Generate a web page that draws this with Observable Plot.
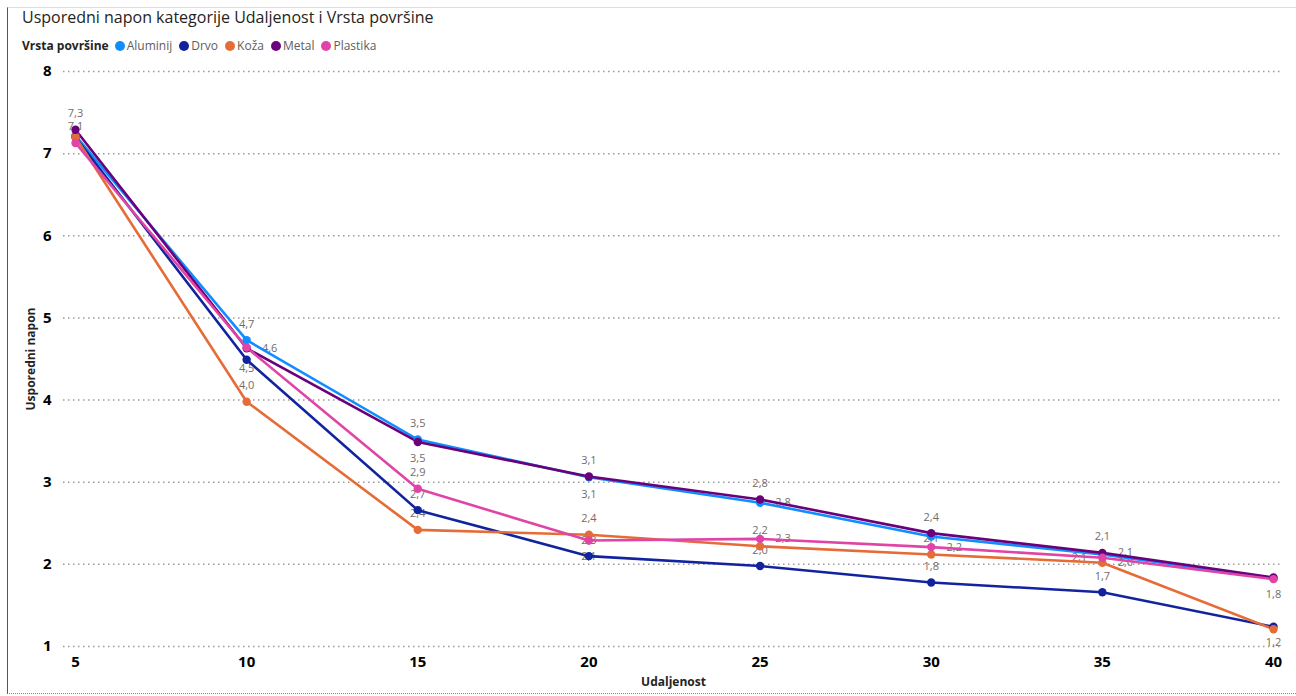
<!DOCTYPE html>
<html>
<head>
<meta charset="utf-8">
<script src="https://cdn.jsdelivr.net/npm/d3@7"></script>
<script src="https://cdn.jsdelivr.net/npm/@observablehq/plot@0.6"></script>
<style>
  html, body { margin: 0; padding: 0; background: #fff; }
  body { width: 1296px; height: 696px; position: relative; overflow: hidden; font-family: "Segoe UI", "Open Sans", sans-serif; }
  #frame { position: absolute; left: 7px; top: 7px; width: 1289px; height: 687px; border-left: 1.5px solid #555; border-top: 1px solid #ddd; border-bottom: 1px dotted #888; box-sizing: border-box; }
  #header { position: relative; height: 60px; }
  #title { position: absolute; left: 22px; top: 6px; font-size: 16px; color: #252423; white-space: nowrap; }
  #legend { position: absolute; left: 22px; top: 37px; font-size: 12px; color: #605E5C; display: flex; align-items: center; white-space: nowrap; }
  #legend .head { font-weight: bold; color: #252423; margin-right: 6px; }
  #legend .item { display: flex; align-items: center; margin-right: 7px; }
  #legend .sw { width: 10px; height: 10px; border-radius: 50%; margin-right: 2px; }
  #chart { position: relative; }
</style>
</head>
<body>
<div id="frame"></div>
<div id="header">
  <div id="title">Usporedni napon kategorije Udaljenost i Vrsta površine</div>
  <div id="legend"></div>
</div>
<div id="chart"></div>
<script>
// ---- data ----
const distances = [5, 10, 15, 20, 25, 30, 35, 40];
const seriesNames = ["Aluminij", "Drvo", "Koža", "Metal", "Plastika"];
const aluminij = [7.22, 4.73, 3.52, 3.06, 2.75, 2.34, 2.12, 1.83];
const drvo     = [7.20, 4.49, 2.66, 2.10, 1.98, 1.78, 1.66, 1.24];
const koza     = [7.20, 3.98, 2.42, 2.36, 2.22, 2.12, 2.02, 1.21];
const metal    = [7.29, 4.63, 3.49, 3.07, 2.79, 2.38, 2.14, 1.84];
const plastika = [7.13, 4.64, 2.92, 2.29, 2.31, 2.21, 2.08, 1.82];
const seriesColors = ["#118DFF", "#12239E", "#E66C37", "#6B007B", "#E044A7"];
const yTicks = [1, 2, 3, 4, 5, 6, 7, 8];
const xTicks = [5, 10, 15, 20, 25, 30, 35, 40];
const legendTitle = "Vrsta površine";
const xTitle = "Udaljenost";
const yTitle = "Usporedni napon";

// data labels shown: series, distance, placement
const labelSeries = ["Metal","Plastika",
  "Aluminij","Metal","Drvo","Koža",
  "Aluminij","Metal","Plastika","Drvo","Koža",
  "Metal","Aluminij","Koža","Plastika","Drvo",
  "Metal","Aluminij","Koža","Plastika","Drvo",
  "Metal","Koža","Plastika","Drvo",
  "Metal","Aluminij","Plastika","Koža","Drvo",
  "Metal","Koža"];
const labelDist = [5,5,
  10,10,10,10,
  15,15,15,15,15,
  20,20,20,20,20,
  25,25,25,25,25,
  30,30,30,30,
  35,35,35,35,35,
  40,40];
const labelPlace = ["above","above",
  "above","right","near","above",
  "above","below","above","above","above",
  "above","below","above","center","center",
  "above","right","above","right","above",
  "above","above","right","above",
  "above","rightup","left","right","above",
  "below","nearbelow"];

// ---- build table ----
const valuesBySeries = {Aluminij: aluminij, Drvo: drvo, "Koža": koza, Metal: metal, Plastika: plastika};
const rows = seriesNames.flatMap(s => distances.map((d, i) => ({series: s, dist: d, value: valuesBySeries[s][i]})));
const fmt = v => v.toFixed(1).replace(".", ",");
const labels = labelSeries.map((s, i) => {
  const idx = distances.indexOf(labelDist[i]);
  return {series: s, dist: labelDist[i], value: valuesBySeries[s][idx], place: labelPlace[i]};
});

// ---- legend ----
const leg = document.getElementById("legend");
leg.innerHTML = `<span class="head">${legendTitle}</span>` + seriesNames.map((s, i) =>
  `<span class="item"><span class="sw" style="background:${seriesColors[i]}"></span>${s}</span>`).join("");

// ---- chart ----
const offsets = {above: [0, -16], below: [0, 17], near: [0, 9], nearbelow: [0, 13], right: [23, 0], rightup: [23, -2], left: [-23, 0], center: [0, 0]};
const labelMarks = Object.entries(offsets).map(([p, [dx, dy]]) =>
  Plot.text(labels.filter(l => l.place === p), {
    x: "dist", y: "value", text: d => fmt(d.value), dx, dy,
    fill: "#6f6d6b", fontSize: 11, fontFamily: "Segoe UI, Open Sans, sans-serif"
  }));

const chart = Plot.plot({
  width: 1296,
  height: 636,
  marginTop: 11,
  marginBottom: 50,
  marginLeft: 63,
  marginRight: 13,
  style: {fontFamily: "Segoe UI, Open Sans, sans-serif", background: "transparent", overflow: "visible"},
  x: {domain: [5, 40], insetLeft: 12, insetRight: 10},
  y: {domain: [1, 8]},
  color: {domain: seriesNames, range: seriesColors},
  marks: [
    Plot.ruleY(yTicks, {stroke: "#9b9b9b", strokeWidth: 1.5, strokeDasharray: "1.5,3.5"}),
    ...labelMarks,
    Plot.line(rows, {x: "dist", y: "value", z: "series", stroke: "series", strokeWidth: 2.6}),
    Plot.dot(rows, {x: "dist", y: "value", fill: "series", r: 4.2}),
    Plot.axisY(yTicks, {tickSize: 0, tickPadding: 12, fontSize: 15, fontWeight: "bold", fill: "#000",
      tickFormat: d => String(d),
      label: yTitle, labelAnchor: "center", labelArrow: "none", labelOffset: 37}),
    Plot.axisX(xTicks, {tickSize: 0, tickPadding: 10, fontSize: 15, fontWeight: "bold", fill: "#000",
      tickFormat: d => String(d),
      label: xTitle, labelAnchor: "center", labelArrow: "none", labelOffset: 39})
  ]
});
document.getElementById("chart").appendChild(chart);
// style axis titles
chart.querySelectorAll("g[aria-label='y-axis label'] text, g[aria-label='x-axis label'] text").forEach(t => {
  t.setAttribute("font-size", "12");
  t.setAttribute("font-weight", "bold");
  t.setAttribute("fill", "#252423");
});
</script>
</body>
</html>
